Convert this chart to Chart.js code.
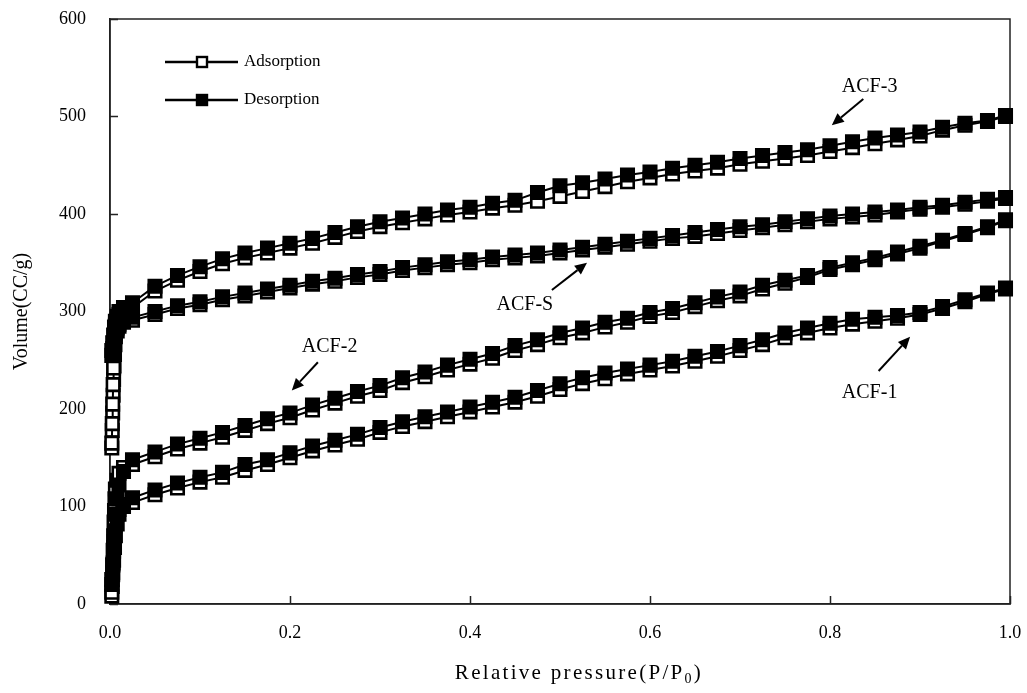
<!DOCTYPE html>
<html>
<head>
<meta charset="utf-8">
<script src="https://cdn.jsdelivr.net/npm/chart.js@4/dist/chart.umd.min.js"></script>
<style>
  html, body { margin: 0; padding: 0; background: #fff; }
  #wrap { width: 1027px; height: 693px; }
</style>
</head>
<body>
<div id="wrap"><canvas id="mycanvas" width="1027" height="693"></canvas></div>
<script>
// relative pressure P/P0 of the low-pressure steps
var lowPAds = [0.002, 0.0025, 0.003, 0.0035, 0.004, 0.0045, 0.005, 0.0055, 0.006, 0.008, 0.01, 0.015];
var lowPDes = [0.002, 0.003, 0.004, 0.005, 0.006, 0.008, 0.01, 0.015];
// relative pressure P/P0 of the main measuring points
var pressure = [0.025, 0.05, 0.075, 0.1, 0.125, 0.15, 0.175, 0.2, 0.225, 0.25,
  0.275, 0.3, 0.325, 0.35, 0.375, 0.4, 0.425, 0.45, 0.475, 0.5,
  0.525, 0.55, 0.575, 0.6, 0.625, 0.65, 0.675, 0.7, 0.725, 0.75,
  0.775, 0.8, 0.825, 0.85, 0.875, 0.9, 0.925, 0.95, 0.975, 0.995];

// volume adsorbed (cc/g)
var acf1LowAds = [8, 18, 30, 42, 54, 64, 72, 80, 86, 92, 97, 102];
var acf1LowDes = [20, 32, 45, 58, 70, 82, 92, 100];
var acf1Ads = [104, 112, 119, 125, 130, 137, 143, 150, 157, 163, 169, 176, 182, 187, 192, 197, 202, 207, 213, 220,
  226, 231, 236, 240, 244, 249, 254, 260, 266, 273, 278, 283, 287, 290, 293, 297, 303, 310, 318, 323];
var acf1Des = [109, 117, 124, 130, 135, 143, 148, 155, 162, 168, 174, 181, 187, 192, 197, 202, 207, 212, 219, 226,
  232, 237, 241, 245, 249, 254, 259, 265, 271, 278, 283, 288, 292, 294, 296, 299, 305, 312, 319, 324];

var acf2LowAds = [12, 25, 40, 55, 70, 84, 96, 108, 118, 127, 134, 140];
var acf2LowDes = [25, 40, 58, 75, 92, 108, 122, 136];
var acf2Ads = [143, 151, 159, 165, 171, 178, 185, 191, 199, 206, 213, 219, 227, 233, 240, 246, 252, 260, 266, 273,
  278, 284, 289, 295, 299, 305, 311, 316, 323, 329, 335, 343, 348, 353, 359, 365, 372, 379, 386, 393];
var acf2Des = [148, 156, 164, 170, 176, 183, 190, 196, 204, 211, 218, 224, 232, 238, 245, 251, 257, 265, 271, 278,
  283, 289, 293, 299, 303, 309, 315, 320, 327, 332, 337, 345, 350, 355, 361, 367, 373, 380, 387, 394];

var acfSLowAds = [160, 178, 196, 214, 230, 244, 256, 266, 274, 280, 285, 289];
var acfSLowDes = [255, 262, 268, 274, 278, 283, 287, 290];
var acfSAds = [291, 297, 303, 307, 312, 316, 320, 324, 328, 331, 335, 338, 342, 345, 348, 350, 353, 355, 357, 360,
  363, 366, 369, 372, 375, 377, 380, 383, 386, 389, 392, 395, 397, 399, 402, 405, 407, 410, 413, 416];
var acfSDes = [294, 300, 306, 310, 315, 319, 323, 327, 331, 334, 338, 341, 345, 348, 351, 353, 356, 358, 360, 363,
  366, 369, 372, 375, 378, 381, 384, 387, 389, 392, 395, 398, 400, 402, 404, 407, 409, 412, 415, 417];

var acf3LowAds = [165, 185, 205, 225, 242, 256, 268, 278, 286, 292, 297, 301];
var acf3LowDes = [260, 268, 276, 284, 290, 295, 300, 304];
var acf3Ads = [304, 321, 332, 341, 349, 355, 360, 365, 370, 376, 382, 387, 391, 395, 399, 402, 406, 409, 413, 418,
  423, 428, 433, 437, 441, 444, 447, 451, 454, 457, 460, 464, 468, 472, 476, 480, 486, 491, 495, 500];
var acf3Des = [309, 326, 337, 346, 354, 360, 365, 370, 375, 381, 387, 392, 396, 400, 404, 407, 411, 414, 422, 429,
  432, 436, 440, 443, 447, 450, 453, 457, 460, 463, 466, 470, 474, 478, 481, 484, 489, 493, 496, 501];

var yTicks = [0, 100, 200, 300, 400, 500, 600];
var xTicks = [0, 0.2, 0.4, 0.6, 0.8, 1.0];

// sample labels with arrows: [text, textX, textY, arrowFromX, arrowFromY, arrowToX, arrowToY] in data units
var sampleLabels = [
  ['ACF-3', 0.844, 531, 0.837, 518, 0.802, 491],
  ['ACF-S', 0.461, 307, 0.491, 322, 0.530, 350],
  ['ACF-2', 0.244, 264, 0.231, 248, 0.202, 219],
  ['ACF-1', 0.844, 217, 0.854, 239, 0.889, 274]
];

var SERIF = '"Liberation Serif", "Times New Roman", serif';

function pts(xs, ys) {
  var out = [];
  for (var i = 0; i < ys.length; i++) out.push({x: xs[i], y: ys[i]});
  return out;
}

function branch(label, xs, ys, filled) {
  return {
    label: label,
    data: pts(xs, ys),
    order: filled ? 1 : 2,
    borderColor: '#000',
    borderWidth: 2,
    pointStyle: 'rect',
    pointRadius: 8.8,
    pointBackgroundColor: filled ? '#000' : '#fff',
    pointBorderColor: '#000',
    pointBorderWidth: 2.6,
    clip: false
  };
}

function arrow(ctx, x1, y1, x2, y2) {
  var ang = Math.atan2(y2 - y1, x2 - x1), hl = 12, hw = 5.5;
  var bx = x2 - hl * Math.cos(ang), by = y2 - hl * Math.sin(ang);
  ctx.beginPath();
  ctx.moveTo(x1, y1);
  ctx.lineTo(bx, by);
  ctx.stroke();
  ctx.beginPath();
  ctx.moveTo(x2, y2);
  ctx.lineTo(bx + hw * Math.sin(ang), by - hw * Math.cos(ang));
  ctx.lineTo(bx - hw * Math.sin(ang), by + hw * Math.cos(ang));
  ctx.closePath();
  ctx.fill();
}

// frame + inward tick marks under the data, labels and legend on top
var frame = {
  id: 'frame',
  beforeDatasetsDraw: function(chart) {
    var ctx = chart.ctx, a = chart.chartArea, xs = chart.scales.x, ys = chart.scales.y;
    ctx.save();
    ctx.strokeStyle = '#222';
    ctx.lineWidth = 1.5;
    ctx.strokeRect(a.left, a.top, a.right - a.left, a.bottom - a.top);
    ctx.beginPath();
    yTicks.forEach(function(v) {
      var py = Math.round(ys.getPixelForValue(v)) + 0.5;
      ctx.moveTo(a.left, py);
      ctx.lineTo(a.left + 8, py);
    });
    xTicks.forEach(function(v) {
      var px = Math.round(xs.getPixelForValue(v)) + 0.5;
      ctx.moveTo(px, a.bottom);
      ctx.lineTo(px, a.bottom - 8);
    });
    ctx.stroke();
    ctx.restore();
  },
  afterDraw: function(chart) {
    var ctx = chart.ctx, a = chart.chartArea, xs = chart.scales.x, ys = chart.scales.y;
    ctx.save();
    ctx.fillStyle = '#000';
    ctx.strokeStyle = '#000';

    // sample labels
    ctx.font = '20px ' + SERIF;
    ctx.textAlign = 'center';
    ctx.textBaseline = 'middle';
    ctx.lineWidth = 2;
    sampleLabels.forEach(function(s) {
      ctx.fillText(s[0], xs.getPixelForValue(s[1]), ys.getPixelForValue(s[2]));
      arrow(ctx, xs.getPixelForValue(s[3]), ys.getPixelForValue(s[4]),
        xs.getPixelForValue(s[5]), ys.getPixelForValue(s[6]));
    });

    // legend
    var rows = [['Adsorption', '#fff'], ['Desorption', '#000']];
    ctx.font = '17px ' + SERIF;
    ctx.textAlign = 'left';
    rows.forEach(function(r, i) {
      var ly = a.top + 43 + i * 38;
      ctx.lineWidth = 2.5;
      ctx.beginPath();
      ctx.moveTo(a.left + 55, ly);
      ctx.lineTo(a.left + 128, ly);
      ctx.stroke();
      ctx.fillStyle = r[1];
      ctx.lineWidth = 2.4;
      ctx.fillRect(a.left + 87, ly - 5, 10, 10);
      ctx.strokeRect(a.left + 87, ly - 5, 10, 10);
      ctx.fillStyle = '#000';
      ctx.fillText(r[0], a.left + 134, ly);
    });

    // x axis title with subscript
    ctx.textBaseline = 'alphabetic';
    ctx.letterSpacing = '2.3px';
    var big = '21px ' + SERIF, small = '14px ' + SERIF;
    var head = 'Relative pressure(P/P', sub = '0', tail = ')';
    ctx.font = big;
    var w1 = ctx.measureText(head).width, w3 = ctx.measureText(tail).width;
    ctx.font = small;
    var w2 = ctx.measureText(sub).width;
    var tx = (a.left + a.right) / 2 + 19 - (w1 + w2 + w3) / 2, ty = 679;
    ctx.font = big;
    ctx.fillText(head, tx, ty);
    ctx.font = small;
    ctx.fillText(sub, tx + w1, ty + 4);
    ctx.font = big;
    ctx.fillText(tail, tx + w1 + w2, ty);
    ctx.restore();
  }
};

Chart.defaults.color = '#000';
Chart.defaults.font.family = SERIF;

var ctx = document.getElementById('mycanvas');
var chart = new Chart(ctx, {
  type: 'line',
  data: {
    datasets: [
      branch('ACF-3 desorption', lowPDes.concat(pressure), acf3LowDes.concat(acf3Des), true),
      branch('ACF-3 adsorption', lowPAds.concat(pressure), acf3LowAds.concat(acf3Ads), false),
      branch('ACF-S desorption', lowPDes.concat(pressure), acfSLowDes.concat(acfSDes), true),
      branch('ACF-S adsorption', lowPAds.concat(pressure), acfSLowAds.concat(acfSAds), false),
      branch('ACF-2 desorption', lowPDes.concat(pressure), acf2LowDes.concat(acf2Des), true),
      branch('ACF-2 adsorption', lowPAds.concat(pressure), acf2LowAds.concat(acf2Ads), false),
      branch('ACF-1 desorption', lowPDes.concat(pressure), acf1LowDes.concat(acf1Des), true),
      branch('ACF-1 adsorption', lowPAds.concat(pressure), acf1LowAds.concat(acf1Ads), false)
    ]
  },
  options: {
    responsive: false,
    animation: false,
    layout: { padding: { top: 19, right: 17, left: 0, bottom: 0 } },
    plugins: { legend: { display: false }, tooltip: { enabled: false } },
    elements: { line: { tension: 0 } },
    scales: {
      x: {
        type: 'linear',
        min: 0,
        max: 1,
        // label offset comes from tickLength; grid itself is hidden
        grid: { display: false, drawTicks: true, tickLength: 18 },
        border: { display: true, color: '#222', width: 1.5 },
        ticks: {
          stepSize: 0.2,
          padding: 0,
          font: { size: 18 },
          callback: function(v) { return Number(v).toFixed(1); }
        },
        afterFit: function(s) { s.height = 89; }
      },
      y: {
        min: 0,
        max: 600,
        grid: { display: false, drawTicks: true, tickLength: 24 },
        border: { display: true, color: '#222', width: 1.5 },
        ticks: { stepSize: 100, padding: 0, font: { size: 18 } },
        title: { display: true, text: 'Volume(CC/g)', font: { size: 20 }, padding: { top: 10, bottom: 0 } },
        afterFit: function(s) { s.width = 110; }
      }
    }
  },
  plugins: [frame]
});
</script>
</body>
</html>
